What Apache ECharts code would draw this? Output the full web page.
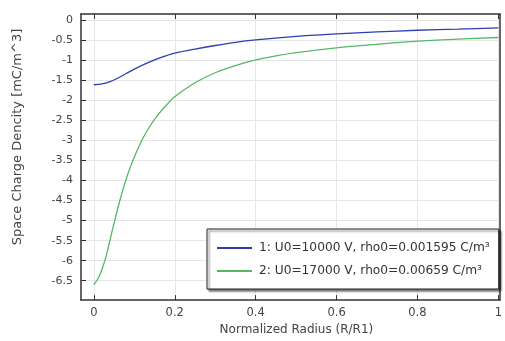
<!DOCTYPE html>
<html>
<head>
<meta charset="utf-8">
<script src="https://cdn.jsdelivr.net/npm/echarts@6/dist/echarts.min.js"></script>
<style>html,body{margin:0;padding:0;background:#fff}#c{width:505px;height:341px}</style>
</head>
<body>
<div id="c"></div>
<script>
var xTicks = [0, 0.2, 0.4, 0.6, 0.8, 1];
var yTicks = [0, -0.5, -1, -1.5, -2, -2.5, -3, -3.5, -4, -4.5, -5, -5.5, -6, -6.5];

var blueX = [0, 0.02, 0.04, 0.06, 0.08, 0.1, 0.12, 0.14, 0.16, 0.18, 0.2, 0.25, 0.3, 0.35, 0.4, 0.5, 0.6, 0.7, 0.8, 0.9, 1.0];
var blueY = [-1.61, -1.59, -1.53, -1.44, -1.33, -1.22, -1.12, -1.03, -0.95, -0.88, -0.82, -0.72, -0.63, -0.55, -0.49, -0.40, -0.34, -0.29, -0.25, -0.22, -0.19];

var greenX = [0, 0.01, 0.02, 0.03, 0.04, 0.05, 0.06, 0.07, 0.08, 0.09, 0.1, 0.12, 0.14, 0.16, 0.18, 0.2, 0.25, 0.3, 0.35, 0.4, 0.45, 0.5, 0.6, 0.7, 0.8, 0.9, 1.0];
var greenY = [-6.6, -6.45, -6.22, -5.9, -5.48, -5.06, -4.66, -4.29, -3.96, -3.67, -3.41, -2.97, -2.62, -2.34, -2.11, -1.91, -1.56, -1.31, -1.13, -0.99, -0.89, -0.81, -0.69, -0.60, -0.52, -0.47, -0.43];

var seriesNames = ['1: U0=10000 V, rho0=0.001595 C/m\u00B3', '2: U0=17000 V, rho0=0.00659 C/m\u00B3'];

function pairs(xs, ys) { return xs.map(function (x, i) { return [x, ys[i]]; }); }

var FONT = 'DejaVu Sans';
var chart = echarts.init(document.getElementById('c'), null, { renderer: 'canvas' });
chart.setOption({
  animation: false,
  backgroundColor: '#fff',
  grid: { left: 81, top: 14, right: 1, bottom: 30, containLabel: false },
  xAxis: [{
    type: 'value', position: 'bottom', min: -0.0318, max: 1.0037,
    name: 'Normalized Radius (R/R1)', nameLocation: 'middle', nameGap: 23,
    nameTextStyle: { fontFamily: FONT, fontSize: 12, color: '#444', padding: [0, 0, 0, 12] },
    axisLine: { show: true, onZero: false, lineStyle: { color: '#333', width: 1.5 } },
    axisTick: { show: true, inside: true, length: 5, customValues: xTicks, lineStyle: { color: '#333' } },
    axisLabel: { customValues: xTicks, fontFamily: FONT, fontSize: 11.5, color: '#444', margin: 7 },
    splitLine: { show: true, lineStyle: { color: '#e6e6e6', width: 1 } }
  }, {
    type: 'value', position: 'top', min: -0.0318, max: 1.0037,
    axisLine: { show: true, onZero: false, lineStyle: { color: '#333', width: 1.5 } },
    axisTick: { show: true, inside: true, length: 5, customValues: xTicks, lineStyle: { color: '#333' } },
    axisLabel: { show: false },
    splitLine: { show: false }
  }],
  yAxis: [{
    type: 'value', position: 'left', min: -6.983, max: 0.156,
    name: 'Space Charge Dencity [mC/m^3]', nameLocation: 'middle', nameGap: 57, nameRotate: 90,
    nameTextStyle: { fontFamily: FONT, fontSize: 13, color: '#444', padding: [0, 0, 0, 40] },
    axisLine: { show: true, onZero: false, lineStyle: { color: '#333', width: 1.5 } },
    axisTick: { show: true, inside: true, length: 5, customValues: yTicks, lineStyle: { color: '#333' } },
    axisLabel: { customValues: yTicks, fontFamily: FONT, fontSize: 11, color: '#444', margin: 8 },
    splitLine: { show: true, lineStyle: { color: '#e6e6e6', width: 1 } }
  }, {
    type: 'value', position: 'right', min: -6.983, max: 0.156,
    axisLine: { show: true, onZero: false, lineStyle: { color: '#333', width: 1.5 } },
    axisTick: { show: false }, axisLabel: { show: false }, splitLine: { show: false }
  }],
  legend: {
    orient: 'vertical', left: 207, top: 229,
    padding: [12, 9, 11, 10], itemGap: 9,
    itemWidth: 35, itemHeight: 2, icon: 'rect',
    backgroundColor: '#fff', borderColor: '#222', borderWidth: 1,
    shadowColor: 'rgba(0,0,0,0.55)', shadowOffsetX: 2, shadowOffsetY: 2, shadowBlur: 2,
    textStyle: { fontFamily: FONT, fontSize: 12.2, color: '#333', lineHeight: 14, padding: [0, 0, 0, 2] },
    data: seriesNames
  },
  series: [{
    name: seriesNames[0], type: 'line', xAxisIndex: 0, yAxisIndex: 0,
    data: pairs(blueX, blueY), showSymbol: false, smooth: 0.3,
    lineStyle: { color: '#2e3fae', width: 1.3 }, itemStyle: { color: '#2e3fae' }
  }, {
    name: seriesNames[1], type: 'line', xAxisIndex: 0, yAxisIndex: 0,
    data: pairs(greenX, greenY), showSymbol: false, smooth: 0.3,
    lineStyle: { color: '#52b864', width: 1.3 }, itemStyle: { color: '#52b864' }
  }]
});
</script>
</body>
</html>
